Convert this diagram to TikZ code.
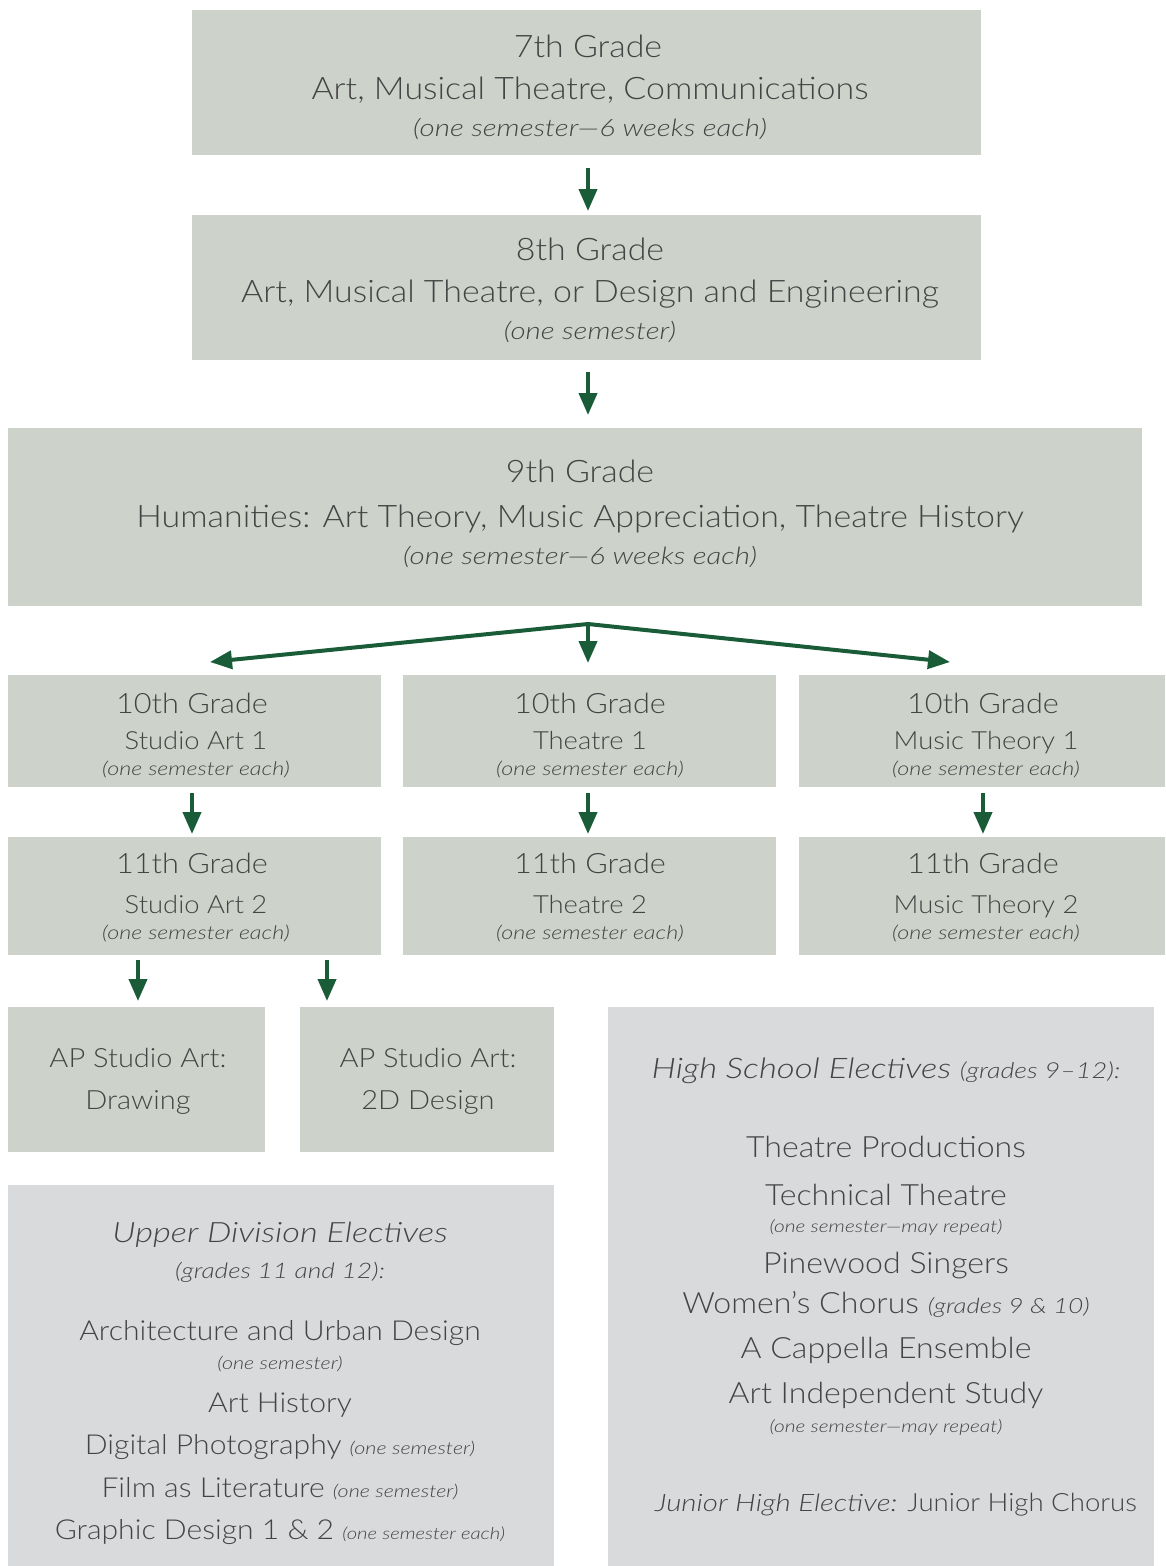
\documentclass[tikz,border=0pt]{standalone}
\usepackage{fontspec}
\setmainfont{Lato Light}[ItalicFont={Lato Light Italic},UprightFeatures={FakeStretch=1.095},ItalicFeatures={FakeStretch=1.23}]
\usetikzlibrary{arrows.meta}
\definecolor{boxg}{HTML}{CDD3CB}
\definecolor{boxy}{HTML}{D9DADC}
\definecolor{arrg}{HTML}{1A5C38}
\definecolor{txt}{HTML}{444444}
\begin{document}
\begin{tikzpicture}[x=1pt,y=-1pt,
  gbox/.style={fill=boxg,draw=none,inner sep=0pt},
  ybox/.style={fill=boxy,draw=none,inner sep=0pt},
  fz/.style={inner sep=0pt,anchor=base,text=txt,font=\fontsize{#1}{#1}\selectfont,yshift=-0.36*#1pt},
  fi/.style={fz=#1,font=\fontsize{#1}{#1}\selectfont\itshape},
  arr/.style={draw=arrg,line width=4pt,-{Triangle[length=22pt,width=18pt]}},
]
\useasboundingbox (0,0) rectangle (1165,1566);
% boxes
\path[gbox] (192,10) rectangle (981,155) node[pos=0.5] (b7) {};
\path[gbox] (192,215) rectangle (981,360) node[pos=0.5] (b8) {};
\path[gbox] (8,428) rectangle (1142,606) node[pos=0.5] (b9) {};
\path[gbox] (8,675) rectangle (381,787) node[pos=0.5] (b10a) {};
\path[gbox] (403,675) rectangle (776,787) node[pos=0.5] (b10b) {};
\path[gbox] (799,675) rectangle (1165,787) node[pos=0.5] (b10c) {};
\path[gbox] (8,837) rectangle (381,955) node[pos=0.5] (b11a) {};
\path[gbox] (403,837) rectangle (776,955) node[pos=0.5] (b11b) {};
\path[gbox] (799,837) rectangle (1165,955) node[pos=0.5] (b11c) {};
\path[gbox] (8,1007) rectangle (265,1152) node[pos=0.5] (ap1) {};
\path[gbox] (300,1007) rectangle (554,1152) node[pos=0.5] (ap2) {};
\path[ybox] (8,1185) rectangle (554,1566) node[pos=0.5] (ud) {};
\path[ybox] (608,1007) rectangle (1154,1566) node[pos=0.5] (hs) {};
% coordinates for connectors
\coordinate (s7) at (588,168); \coordinate (e7) at (588,211);
\coordinate (s8) at (588,372); \coordinate (e8) at (588,415);
\coordinate (br) at (588,624);
\coordinate (tl) at (210,662); \coordinate (tm) at (588,663); \coordinate (tr) at (950,662);
\coordinate (s10a) at (192,793); \coordinate (e10a) at (192,834);
\coordinate (s10b) at (588,793); \coordinate (e10b) at (588,834);
\coordinate (s10c) at (983,793); \coordinate (e10c) at (983,834);
\coordinate (s11a) at (138,960); \coordinate (e11a) at (138,1001);
\coordinate (s11b) at (327,960); \coordinate (e11b) at (327,1001);
\draw[arr] (s7) -- (e7);
\draw[arr] (s8) -- (e8);
\draw[arr] (br) -- (tl);
\draw[arr] (br) -- (tr);
\draw[arr] (br) -- (tm);
\draw[arr] (s10a) -- (e10a);
\draw[arr] (s10b) -- (e10b);
\draw[arr] (s10c) -- (e10c);
\draw[arr] (s11a) -- (e11a);
\draw[arr] (s11b) -- (e11b);
% texts 7th
\node[fz=31] (t7a) at (588,46) {7th Grade};
\node[fz=31] (t7b) at (590,88) {Art, Musical Theatre, Communications};
\node[fi=24] (t7c) at (590,128) {(one semester—6 weeks each)};
% 8th
\node[fz=31] (t8a) at (590,249) {8th Grade};
\node[fz=31] (t8b) at (590,291) {Art, Musical Theatre, or Design and Engineering};
\node[fi=24] (t8c) at (590,331) {(one semester)};
% 9th
\node[fz=31] (t9a) at (580,471) {9th Grade};
\node[fz=31] (t9b) at (580,516) {Humanities: Art Theory, Music Appreciation, Theatre History};
\node[fi=24] (t9c) at (580,556) {(one semester—6 weeks each)};
% 10th
\node[fz=28] (t10a1) at (192,703) {10th Grade};
\node[fz=25] (t10a2) at (196,740) {Studio Art 1};
\node[fi=19] (t10a3) at (196,769) {(one semester each)};
\node[fz=28] (t10b1) at (590,703) {10th Grade};
\node[fz=25] (t10b2) at (590,740) {Theatre 1};
\node[fi=19] (t10b3) at (590,769) {(one semester each)};
\node[fz=28] (t10c1) at (983,703) {10th Grade};
\node[fz=25] (t10c2) at (986,740) {Music Theory 1};
\node[fi=19] (t10c3) at (986,769) {(one semester each)};
% 11th
\node[fz=28] (t11a1) at (192,863) {11th Grade};
\node[fz=25] (t11a2) at (196,904) {Studio Art 2};
\node[fi=19] (t11a3) at (196,933) {(one semester each)};
\node[fz=28] (t11b1) at (590,863) {11th Grade};
\node[fz=25] (t11b2) at (590,904) {Theatre 2};
\node[fi=19] (t11b3) at (590,933) {(one semester each)};
\node[fz=28] (t11c1) at (983,863) {11th Grade};
\node[fz=25] (t11c2) at (986,904) {Music Theory 2};
\node[fi=19] (t11c3) at (986,933) {(one semester each)};
% AP
\node[fz=26.5] (ap1a) at (138,1058) {AP Studio Art:};
\node[fz=26.5] (ap1b) at (138,1100) {Drawing};
\node[fz=26.5] (ap2a) at (428,1058) {AP Studio Art:};
\node[fz=26.5] (ap2b) at (428,1100) {2D Design};
% Upper division
\node[fi=28] (u1) at (280,1232) {Upper Division Electives};
\node[fi=21.4] (u2) at (280,1271) {(grades 11 and 12):};
\node[fz=27.5] (u3) at (280,1331) {Architecture and Urban Design};
\node[fi=17.5] (u4) at (280,1363) {(one semester)};
\node[fz=27.5] (u5) at (280,1403) {Art History};
\node[fz=27.5] (u6) at (280,1445) {Digital Photography {\fontsize{17.5}{20}\selectfont\itshape(one semester)}};
\node[fz=27.5] (u7) at (280,1488) {Film as Literature {\fontsize{17.5}{20}\selectfont\itshape(one semester)}};
\node[fz=27.5] (u8) at (280,1530) {Graphic Design 1 \& 2 {\fontsize{16.5}{20}\selectfont\itshape(one semester each)}};
% High school
\node[fi=28.3] (h1) at (886,1068) {High School Electives {\fontsize{22}{26}\selectfont(grades 9–12):}};
\node[fz=29.3] (h2) at (886,1147) {Theatre Productions};
\node[fz=29.3] (h3) at (886,1195) {Technical Theatre};
\node[fi=17] (h4) at (886,1226) {(one semester—may repeat)};
\node[fz=29.3] (h5) at (886,1263) {Pinewood Singers};
\node[fz=29.3] (h6) at (886,1303) {Women’s Chorus {\fontsize{21}{26}\selectfont\itshape(grades 9 \& 10)}};
\node[fz=29.3] (h7) at (886,1348) {A Cappella Ensemble};
\node[fz=29.3] (h8) at (886,1393) {Art Independent Study};
\node[fi=17] (h9) at (886,1426) {(one semester—may repeat)};
\node[fz=25.2] (h10) at (896,1502) {{\fontsize{24}{26}\selectfont\itshape Junior High Elective:} Junior High Chorus};
\end{tikzpicture}
\end{document}
